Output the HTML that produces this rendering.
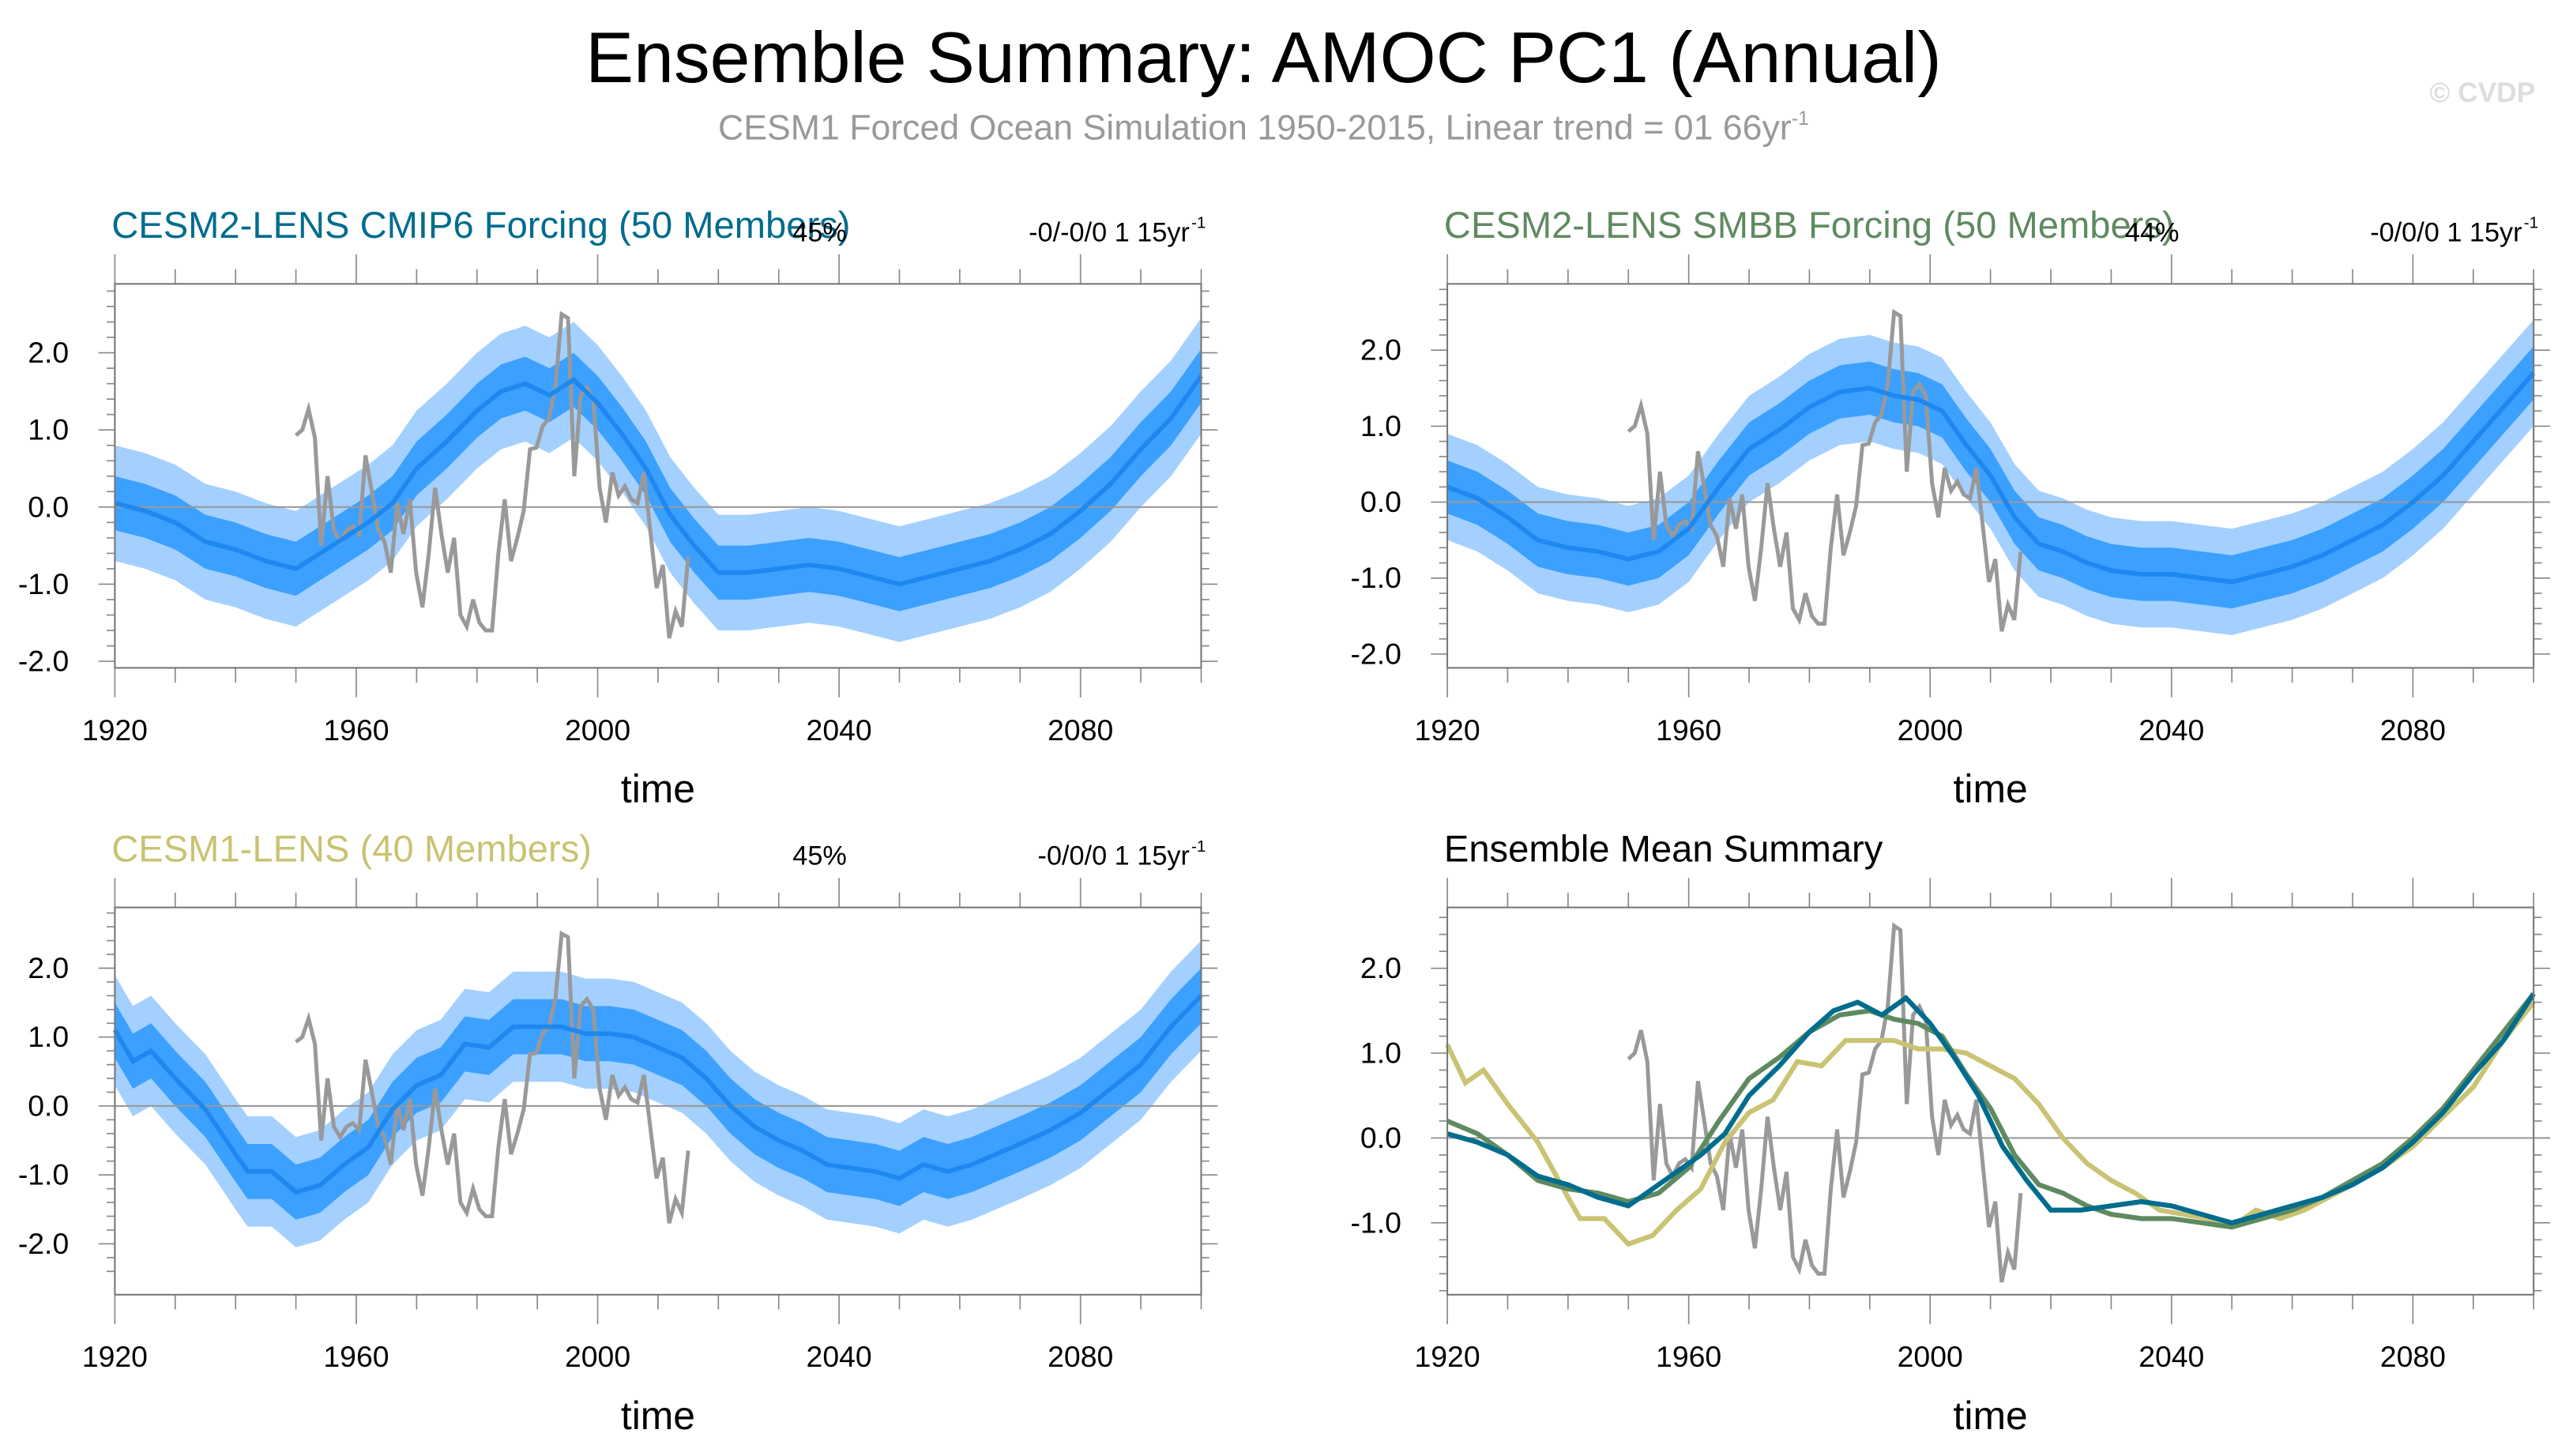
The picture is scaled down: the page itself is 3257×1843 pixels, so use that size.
<!DOCTYPE html>
<html><head><meta charset="utf-8"><style>
html,body{margin:0;padding:0;background:#fff;}
svg{display:block;font-family:"Liberation Sans",sans-serif;}
</style></head><body>
<svg id="fig" width="3257" height="1843" viewBox="0 0 1568 887.3" preserveAspectRatio="none" xmlns="http://www.w3.org/2000/svg">
<text x="770" y="50" font-size="44" text-anchor="middle" fill="#000">Ensemble Summary: AMOC PC1 (Annual)</text>
<text x="770" y="85" font-size="21.5" text-anchor="middle" fill="#999">CESM1 Forced Ocean Simulation 1950-2015, Linear trend = 01 66yr<tspan dy="-9" font-size="12">-1</tspan></text>
<text x="1545" y="62" font-size="17" text-anchor="end" fill="#ddd" font-weight="bold">© CVDP</text>
</svg>
<script>
// ---- data ----
const cmip6Years = [1920,1925,1930,1935,1940,1945,1950,1955,1958,1962,1966,1970,1975,1980,1984,1988,1992,1996,2000,2004,2008,2012,2016,2020,2025,2030,2035,2040,2045,2050,2055,2060,2065,2070,2075,2080,2085,2090,2095,2100];
const cmip6Mean = [0.05,-0.05,-0.2,-0.45,-0.55,-0.7,-0.8,-0.55,-0.4,-0.2,0.05,0.5,0.85,1.25,1.5,1.6,1.45,1.65,1.35,0.95,0.5,-0.1,-0.5,-0.85,-0.85,-0.8,-0.75,-0.8,-0.9,-1.0,-0.9,-0.8,-0.7,-0.55,-0.35,-0.05,0.3,0.75,1.15,1.7];
const smbbYears = [1920,1925,1930,1935,1940,1945,1950,1955,1960,1965,1970,1975,1980,1985,1990,1994,1998,2002,2006,2010,2014,2018,2022,2026,2030,2035,2040,2045,2050,2055,2060,2065,2070,2075,2080,2085,2090,2095,2100];
const smbbMean = [0.2,0.05,-0.2,-0.5,-0.6,-0.65,-0.75,-0.65,-0.35,0.2,0.7,0.95,1.25,1.45,1.5,1.4,1.35,1.2,0.75,0.35,-0.2,-0.55,-0.65,-0.8,-0.9,-0.95,-0.95,-1.0,-1.05,-0.95,-0.85,-0.7,-0.5,-0.3,0.0,0.35,0.8,1.25,1.7];
const cesm1Years = [1920,1923,1926,1930,1935,1940,1942,1946,1950,1954,1958,1962,1966,1970,1974,1978,1982,1986,1990,1994,1998,2002,2006,2010,2014,2018,2022,2026,2030,2034,2038,2042,2046,2050,2054,2058,2062,2066,2070,2075,2080,2085,2090,2095,2100];
const cesm1Mean = [1.1,0.65,0.8,0.4,-0.05,-0.7,-0.95,-0.95,-1.25,-1.15,-0.85,-0.6,-0.05,0.3,0.45,0.9,0.85,1.15,1.15,1.15,1.05,1.05,1.0,0.85,0.7,0.4,0.0,-0.3,-0.5,-0.65,-0.85,-0.9,-0.95,-1.05,-0.85,-0.95,-0.85,-0.7,-0.55,-0.35,-0.1,0.25,0.6,1.15,1.6];
const obsStart = 1950;
const obsValues = [0.93,1.0,1.27,0.9,-0.5,0.4,-0.3,-0.45,-0.3,-0.25,-0.35,0.67,0.2,-0.3,-0.45,-0.85,0.05,-0.35,0.1,-0.85,-1.3,-0.6,0.25,-0.35,-0.85,-0.4,-1.4,-1.55,-1.2,-1.5,-1.6,-1.6,-0.6,0.1,-0.7,-0.4,-0.05,0.75,0.77,1.05,1.15,1.55,2.5,2.45,0.4,1.45,1.55,1.4,0.25,-0.2,0.45,0.15,0.27,0.1,0.05,0.45,-0.3,-1.05,-0.75,-1.7,-1.35,-1.55,-0.65];
const innerSpread = [0.35,0.35,0.4];   // cmip6, smbb, cesm1
const outerSpread = [0.75,0.7,0.8];
const xTicks = [1920,1960,2000,2040,2080];
const yTicks = [-2,-1,0,1,2];

const NS="http://www.w3.org/2000/svg";
const svg=document.getElementById('fig');
function mk(tag,attrs,parent){const e=document.createElementNS(NS,tag);for(const k in attrs)e.setAttribute(k,attrs[k]);(parent||svg).appendChild(e);return e;}

function panel(cfg){
  const g=mk('g',{});
  
  
  const X=y=>cfg.x0+(y-1920)*(cfg.x1-cfg.x0)/180;
  const Y=v=>cfg.zero-v*cfg.unit;
  for(let yr=1920;yr<=2100;yr+=10){
    const maj=(yr-1920)%40===0;const L=maj?18:9;
    mk('line',{x1:X(yr),x2:X(yr),y1:cfg.top-L,y2:cfg.top,stroke:'#888','stroke-width':0.8},g);
    mk('line',{x1:X(yr),x2:X(yr),y1:cfg.bot,y2:cfg.bot+L,stroke:'#888','stroke-width':0.8},g);
  }
  for(let v=-2.4;v<=2.81;v+=0.2){
    const yy=Y(v);if(yy<cfg.top+2||yy>cfg.bot-2)continue;
    const maj=Math.abs(v-Math.round(v))<0.01;const L=maj?10:5;
    mk('line',{x1:cfg.x0-L,x2:cfg.x0,y1:yy,y2:yy,stroke:'#888','stroke-width':0.8},g);
    mk('line',{x1:cfg.x1,x2:cfg.x1+L,y1:yy,y2:yy,stroke:'#888','stroke-width':0.8},g);
  }
  xTicks.forEach(t=>{const tl=mk('text',{x:X(t),y:cfg.bot+44,'font-size':18,'text-anchor':'middle'},g);tl.textContent=t;
    
    });
  yTicks.forEach(t=>{const yy=Y(t);if(yy<cfg.top||yy>cfg.bot)return;const tl=mk('text',{x:cfg.x0-28,y:yy+6,'font-size':18,'text-anchor':'end'},g);tl.textContent=t.toFixed(1);
    
    });
  const xt=mk('text',{x:(cfg.x0+cfg.x1)/2,y:cfg.bot+82,'font-size':24,'text-anchor':'middle'},g);xt.textContent='time';
  
  
  cfg.series.forEach(s=>{
    if(s.band){
      [[outerSpread[s.idx],'#a3d0ff','outer-band'],[innerSpread[s.idx],'#3ca0ff','inner-band']].forEach(([sp,col,nm])=>{
        let d='';s.years.forEach((yr,i)=>{d+=(i?'L':'M')+X(yr)+','+Y(s.vals[i]+sp);});
        for(let i=s.years.length-1;i>=0;i--)d+='L'+X(s.years[i])+','+Y(s.vals[i]-sp);
        const p=mk('path',{d:d+'Z',fill:col,stroke:'none'},g);
        
        
      });
    }
  });
  mk('line',{x1:cfg.x0,x2:cfg.x1+10,y1:Y(0),y2:Y(0),stroke:'#999','stroke-width':1},g);
  let od='';obsValues.forEach((v,i)=>{od+=(i?'L':'M')+X(obsStart+i*65/(obsValues.length-1))+','+Y(v);});
  const op=mk('path',{d:od,fill:'none',stroke:'#999','stroke-width':2.4},g);
  
  
  cfg.series.forEach(s=>{
    let d='';s.years.forEach((yr,i)=>{d+=(i?'L':'M')+X(yr)+','+Y(s.vals[i]);});
    const p=mk('path',{d:d,fill:'none',stroke:s.band?'#1e88f0':s.color,'stroke-width':s.band?2.8:3},g);
    
    
  });
  mk('rect',{x:cfg.x0,y:cfg.top,width:cfg.x1-cfg.x0,height:cfg.bot-cfg.top,fill:'none',stroke:'#777','stroke-width':1},g);
  const t=mk('text',{x:cfg.x0-2,y:cfg.top-28,'font-size':22.7,fill:cfg.tcol},g);t.textContent=cfg.title;
  
  
  if(cfg.pct){const pc=mk('text',{x:cfg.x0+413,y:cfg.top-26,'font-size':16.5},g);pc.textContent=cfg.pct;
    
    
    const tr=mk('text',{x:cfg.x1-7,y:cfg.top-26,'font-size':16.5,'text-anchor':'end'},g);tr.textContent=cfg.trend;
    
    
    const sp=mk('text',{x:cfg.x1-6,y:cfg.top-34,'font-size':10},g);sp.textContent='-1';}
}
panel({name:'panel-cmip6',x0:70,x1:732,top:173,bot:407,zero:309,unit:47,title:'CESM2-LENS CMIP6 Forcing (50 Members)',tcol:'#006c8e',pct:'45%',trend:'-0/-0/0 1 15yr',
  series:[{idx:0,years:cmip6Years,vals:cmip6Mean,band:true,name:'cmip6-mean-line'}]});
panel({name:'panel-smbb',x0:882,x1:1544,top:173,bot:407,zero:306,unit:46.3,title:'CESM2-LENS SMBB Forcing (50 Members)',tcol:'#5f8a60',pct:'44%',trend:'-0/0/0 1 15yr',
  series:[{idx:1,years:smbbYears,vals:smbbMean,band:true,name:'smbb-mean-line'}]});
panel({name:'panel-cesm1',x0:70,x1:732,top:553,bot:789,zero:674,unit:42,title:'CESM1-LENS (40 Members)',tcol:'#c9c373',pct:'45%',trend:'-0/0/0 1 15yr',
  series:[{idx:2,years:cesm1Years,vals:cesm1Mean,band:true,name:'cesm1-mean-line'}]});
panel({name:'panel-summary',x0:882,x1:1544,top:553,bot:789,zero:693.5,unit:51.7,title:'Ensemble Mean Summary',tcol:'#000',
  series:[{years:cesm1Years,vals:cesm1Mean,color:'#c9c373',name:'cesm1-line'},
          {years:smbbYears,vals:smbbMean,color:'#5f8a60',name:'smbb-line'},
          {years:cmip6Years,vals:cmip6Mean,color:'#006c8e',name:'cmip6-line'}]});
</script>
</body></html>
